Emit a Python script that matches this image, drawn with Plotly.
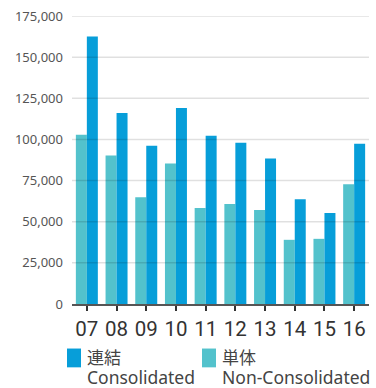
import plotly.graph_objects as go

# Fiscal years (two-digit labels) and values for each series
years = ["07", "08", "09", "10", "11", "12", "13", "14", "15", "16"]
consolidated = [162500, 116100, 96200, 119100, 102300, 98000, 88400, 63700, 55300, 97400]
non_consolidated = [102900, 90200, 64900, 85400, 58300, 60700, 57100, 39000, 39600, 72700]
y_ticks = [0, 25000, 50000, 75000, 100000, 125000, 150000, 175000]

# Legend entries: (colour, Japanese label, English label)
legend_items = [
    ("#079ed9", "連結", "Consolidated"),
    ("#53c2cc", "単体", "Non-Consolidated"),
]

BLUE = "#079ed9"
TEAL = "#53c2cc"
FONT = "Noto Sans, Noto Sans CJK JP, sans-serif"
NARROW = "Liberation Sans Narrow, Roboto, sans-serif"

W, H = 376, 388
ML, MR, MT, MB = 72, 7, 13, 84
PW, PH = W - ML - MR, H - MT - MB


def px_x(px):
    return (px - ML) / PW


def px_y(py):
    return (H - MB - py) / PH


fig = go.Figure()
fig.add_trace(go.Bar(x=years, y=non_consolidated, name="単体 Non-Consolidated",
                     marker=dict(color=TEAL, line=dict(width=0))))
fig.add_trace(go.Bar(x=years, y=consolidated, name="連結 Consolidated",
                     marker=dict(color=BLUE, line=dict(width=0))))

# Horizontal gridlines drawn on top of the bars
for v in y_ticks[1:]:
    fig.add_shape(type="line", xref="paper", x0=0, x1=1, yref="y", y0=v, y1=v,
                  line=dict(color="rgba(0,0,0,0.12)", width=1.5), layer="above")

# Legend below the chart: colour swatch + two-line label
for i, (color, jp, en) in enumerate(legend_items):
    left = 67 + i * 135
    fig.add_shape(type="rect", xref="paper", yref="paper",
                  x0=px_x(left), x1=px_x(left + 14), y0=px_y(349), y1=px_y(368),
                  fillcolor=color, line=dict(width=0), layer="above")
    label = (f"<span style='font-size:17px'>{jp}</span><br>"
             f"<span style='font-size:17.5px'>{en}</span>")
    fig.add_annotation(xref="paper", yref="paper", x=px_x(left + 19), y=px_y(368),
                       xanchor="left", yanchor="middle", align="left",
                       showarrow=False, text=label, borderpad=0,
                       font=dict(family=FONT, size=15.4, color="#444"))

fig.update_layout(
    width=W, height=H,
    margin=dict(l=ML, r=MR, t=MT, b=MB),
    paper_bgcolor="white", plot_bgcolor="white",
    barmode="group", bargap=0.26, bargroupgap=0,
    font=dict(family=FONT, color="#444"),
    showlegend=False,
    xaxis=dict(
        type="category", showgrid=False,
        showline=True, linecolor="#555", linewidth=2,
        ticks="outside", ticklen=5, tickwidth=2, tickcolor="#333",
        tickfont=dict(family=NARROW, size=20.5, color="#333"),
    ),
    yaxis=dict(
        range=[0, 175000], tickvals=y_ticks, tickformat=",d",
        showgrid=False, zeroline=False, showline=False,
        tickfont=dict(family=FONT, size=13, color="#555"),
        ticklabelstandoff=8,
    ),
)

fig.write_html("out.html")
